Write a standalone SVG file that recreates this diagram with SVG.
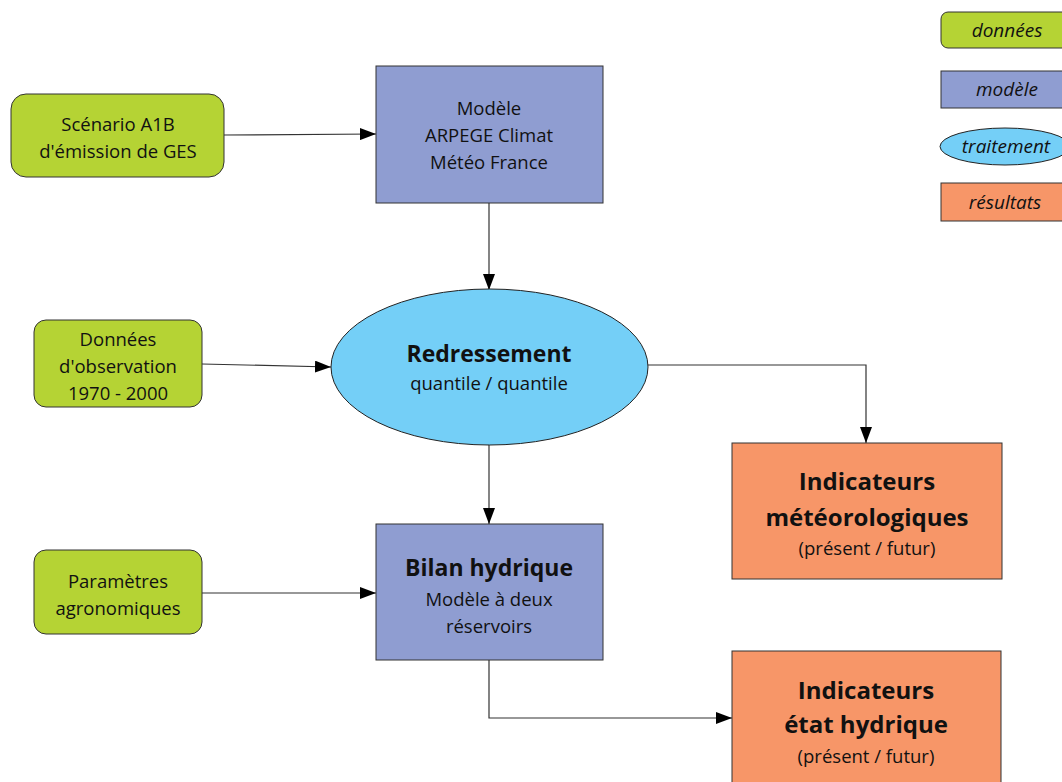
<svg xmlns="http://www.w3.org/2000/svg" width="1062" height="782" viewBox="0 0 1062 782">
<defs>
<marker id="ah" markerWidth="16" markerHeight="12" refX="16" refY="6" orient="auto" markerUnits="userSpaceOnUse"><path d="M0,0 L16,6 L0,12 Z" fill="#000"/></marker>
<style>
.t{font-family:"Open Sans","Liberation Sans",sans-serif;fill:#111;text-anchor:middle}
.n{font-size:18.5px}
.b{font-weight:bold}
.i{font-style:italic;font-size:19px}
.data{fill:#b5d334;stroke:#333;stroke-width:1}
.model{fill:#8f9dd1;stroke:#333;stroke-width:1}
.proc{fill:#74cff7;stroke:#222;stroke-width:1}
.res{fill:#f79668;stroke:#333;stroke-width:1}
.c{fill:none;stroke:#333;stroke-width:1.2}
</style>
</defs>
<rect width="1062" height="782" fill="#fff"/>
<g id="legend">
<rect class="data" x="941" y="12" width="130" height="36" rx="7"/>
<text class="t i" x="1007" y="37">données</text>
<rect class="model" x="941" y="71" width="130" height="37"/>
<text class="t i" x="1007" y="96">modèle</text>
<ellipse class="proc" cx="1005" cy="146.5" rx="65" ry="18.5"/>
<text class="t i" x="1006" y="153">traitement</text>
<rect class="res" x="941" y="183" width="130" height="38"/>
<text class="t i" x="1005" y="209">résultats</text>
</g>
<g id="connectors">
<line class="c" x1="224" y1="135" x2="376" y2="134" marker-end="url(#ah)"/>
<line class="c" x1="489" y1="203" x2="489" y2="290" marker-end="url(#ah)"/>
<line class="c" x1="202" y1="364" x2="331" y2="367" marker-end="url(#ah)"/>
<polyline class="c" points="648,365 866,365 866,443" marker-end="url(#ah)"/>
<line class="c" x1="489" y1="445" x2="489" y2="524" marker-end="url(#ah)"/>
<line class="c" x1="202" y1="593" x2="376" y2="593" marker-end="url(#ah)"/>
<polyline class="c" points="489,660 489,718 732,718" marker-end="url(#ah)"/>
</g>
<g id="scenario">
<rect class="data" x="11" y="94" width="213" height="83" rx="15"/>
<text class="t n" x="118" y="131">Scénario A1B</text>
<text class="t n" x="118" y="158">d'émission de GES</text>
</g>
<g id="arpege">
<rect class="model" x="376" y="66" width="227" height="137"/>
<text class="t n" x="489" y="115">Modèle</text>
<text class="t n" x="489" y="142">ARPEGE Climat</text>
<text class="t n" x="489" y="169">Météo France</text>
</g>
<g id="observation">
<rect class="data" x="34" y="320" width="168" height="87" rx="12"/>
<text class="t n" x="118" y="346">Données</text>
<text class="t n" x="118" y="373">d'observation</text>
<text class="t n" x="118" y="400">1970 - 2000</text>
</g>
<g id="redressement">
<ellipse class="proc" cx="489.5" cy="367" rx="158.5" ry="78"/>
<text class="t b" x="489" y="362" font-size="23">Redressement</text>
<text class="t n" x="489" y="390">quantile / quantile</text>
</g>
<g id="indic-meteo">
<rect class="res" x="732" y="443" width="270" height="136"/>
<text class="t b" x="867" y="490" font-size="24">Indicateurs</text>
<text class="t b" x="867" y="526" font-size="24">météorologiques</text>
<text class="t n" x="867" y="555">(présent / futur)</text>
</g>
<g id="parametres">
<rect class="data" x="34" y="550" width="168" height="84" rx="12"/>
<text class="t n" x="118" y="588">Paramètres</text>
<text class="t n" x="118" y="615">agronomiques</text>
</g>
<g id="bilan">
<rect class="model" x="376" y="524" width="227" height="136"/>
<text class="t b" x="489" y="576" font-size="23">Bilan hydrique</text>
<text class="t n" x="489" y="606">Modèle à deux</text>
<text class="t n" x="489" y="633">réservoirs</text>
</g>
<g id="indic-hydrique">
<rect class="res" x="732" y="651" width="269" height="140"/>
<text class="t b" x="866" y="699" font-size="24">Indicateurs</text>
<text class="t b" x="866" y="733" font-size="24">état hydrique</text>
<text class="t n" x="866" y="763">(présent / futur)</text>
</g>
</svg>
